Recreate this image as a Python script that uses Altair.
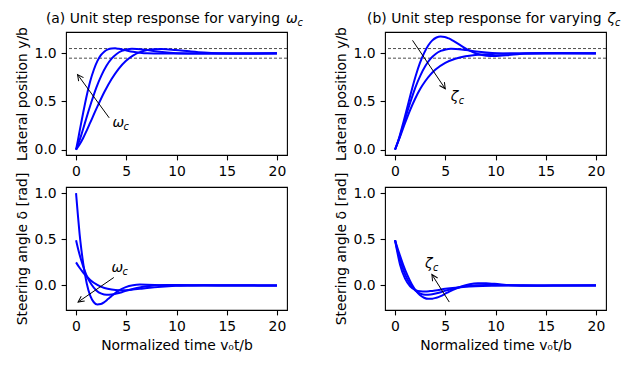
import altair as alt
import pandas as pd

# ---------------- data ----------------
# (a) varying omega_c  (zeta_c ~ 0.7)
T_W10 = [0, 0.18, 0.35, 0.53, 0.71, 1.06, 1.41, 1.77, 2.12, 2.47, 2.83, 3.18, 3.54, 3.89, 4.24, 4.95, 5.66, 6.36, 7.07, 8.49, 9.90, 20.0]
Y_W10 = [0, 0.092, 0.189, 0.287, 0.383, 0.560, 0.711, 0.830, 0.919, 0.981, 1.020, 1.042, 1.051, 1.052, 1.047, 1.031, 1.016, 1.006, 1.000, 0.998, 0.999, 1.0]
U_W10 = [1.0, 0.766, 0.562, 0.388, 0.242, 0.024, -0.111, -0.182, -0.207, -0.202, -0.179, -0.148, -0.115, -0.084, -0.056, -0.018, 0.002, 0.009, 0.008, 0.003, 0.000, 0.0]

T_W07 = [0, 0.25, 0.51, 0.76, 1.01, 1.52, 2.02, 2.53, 3.03, 3.54, 4.04, 4.55, 5.05, 5.56, 6.06, 7.07, 8.08, 9.09, 10.10, 12.12, 14.14, 20.0]
Y_W07 = [0, 0.069, 0.148, 0.233, 0.321, 0.492, 0.645, 0.772, 0.872, 0.945, 0.994, 1.025, 1.041, 1.047, 1.046, 1.034, 1.019, 1.008, 1.001, 0.998, 0.999, 1.0]
U_W07 = [0.49, 0.375, 0.275, 0.190, 0.118, 0.012, -0.054, -0.089, -0.101, -0.099, -0.088, -0.073, -0.056, -0.041, -0.028, -0.009, 0.001, 0.004, 0.004, 0.002, 0.000, 0.0]

T_W05 = [0, 0.35, 0.71, 1.06, 1.41, 2.12, 2.83, 3.54, 4.24, 4.95, 5.66, 6.36, 7.07, 7.78, 8.49, 9.90, 11.31, 12.73, 14.14, 16.97, 20.0]
Y_W05 = [0, 0.053, 0.121, 0.198, 0.280, 0.446, 0.601, 0.734, 0.840, 0.921, 0.977, 1.013, 1.034, 1.043, 1.045, 1.035, 1.021, 1.009, 1.002, 0.998, 0.999]
U_W05 = [0.25, 0.191, 0.140, 0.097, 0.060, 0.006, -0.028, -0.045, -0.052, -0.051, -0.045, -0.037, -0.029, -0.021, -0.014, -0.004, 0.000, 0.002, 0.002, 0.001, 0.000]

# (b) varying zeta_c  (omega_c ~ 0.7); the middle curve is the omega_c = 0.7 curve above
T_Z05 = [0, 0.41, 0.82, 1.24, 1.65, 2.06, 2.47, 2.89, 3.30, 3.71, 4.12, 4.54, 4.95, 5.36, 5.77, 6.60, 7.42, 8.25, 9.07, 9.90, 11.55, 13.20, 14.85, 16.50, 20.0]
Y_Z05 = [0, 0.124, 0.280, 0.449, 0.615, 0.767, 0.898, 1.003, 1.082, 1.135, 1.165, 1.175, 1.171, 1.155, 1.132, 1.078, 1.028, 0.993, 0.976, 0.972, 0.985, 1.000, 1.005, 1.003, 0.999]
U_Z05 = [0.49, 0.350, 0.221, 0.108, 0.015, -0.055, -0.104, -0.133, -0.145, -0.144, -0.133, -0.115, -0.093, -0.070, -0.048, -0.011, 0.013, 0.023, 0.023, 0.017, 0.003, -0.004, -0.003, -0.001, 0.001]

T_Z10 = [0, 0.5, 1, 1.5, 2, 2.5, 3, 3.5, 4, 5, 6, 7, 8, 10, 12, 15, 20]
Y_Z10 = [0, 0.135, 0.277, 0.411, 0.529, 0.629, 0.710, 0.776, 0.829, 0.901, 0.944, 0.969, 0.983, 0.995, 0.999, 1.0, 1.0]
U_Z10 = [0.49, 0.225, 0.073, -0.009, -0.048, -0.064, -0.066, -0.061, -0.054, -0.037, -0.024, -0.014, -0.008, -0.003, -0.001, 0.0, 0.0]

BAND = [0.95, 1.05]
X_TICKS = [0, 5, 10, 15, 20]
Y_TICKS = [0.0, 0.5, 1.0]

TITLE_A = "(a) Unit step response for varying"
TITLE_B = "(b) Unit step response for varying"
YLAB_TOP = "Lateral position y/b"
YLAB_BOT = "Steering angle δ [rad]"
XLAB = "Normalized time v₀t/b"

# ---------------- helpers ----------------
FONT = "DejaVu Sans"
FS = 13.9
W, H = 221, 123
BLUE = "#0000ff"
ARROW = "M -0.5 1 L 0 0 L 0.5 1"


def long_df(series):
    rows = []
    for name, ts, vs in series:
        for t, v in zip(ts, vs):
            rows.append({"curve": name, "t": t, "v": v})
    return pd.DataFrame(rows)


def x_enc(xtitle):
    kw = dict(scale=alt.Scale(domain=[-1, 21], nice=False, zero=False),
              axis=alt.Axis(values=X_TICKS, format="d", labelFlush=False))
    if xtitle:
        return alt.X("t:Q", title=xtitle, **kw)
    return alt.X("t:Q", title=None, **kw)


def y_enc(domain, ytitle):
    return alt.Y("v:Q", title=ytitle,
                 scale=alt.Scale(domain=domain, nice=False, zero=False),
                 axis=alt.Axis(values=Y_TICKS, format=".1f", labelFlush=False))


def panel(series, domain, ytitle, xtitle, arrow, label, title=None, band=False):
    xe, ye = x_enc(xtitle), y_enc(domain, ytitle)
    layers = []
    if band:
        layers.append(alt.Chart(pd.DataFrame({"v": BAND})).mark_rule(
            color="black", strokeWidth=0.7, strokeDash=[3, 2]).encode(y=ye))
    layers.append(alt.Chart(long_df(series)).mark_line(
        color=BLUE, strokeWidth=2, interpolate="monotone").encode(
        x=xe, y=ye, detail="curve:N"))
    (t0, v0), (t1, v1), ang = arrow
    layers.append(alt.Chart(pd.DataFrame({"t": [t0], "v": [v0], "t2": [t1], "v2": [v1]})).mark_rule(
        color="black", strokeWidth=1).encode(x=xe, y=ye, x2="t2:Q", y2="v2:Q"))
    layers.append(alt.Chart(pd.DataFrame({"t": [t1], "v": [v1]})).mark_point(
        shape=ARROW, filled=False, color="black", strokeWidth=1, size=144,
        angle=ang, opacity=1).encode(x=xe, y=ye))
    (lt, lv), sym, cdx = label
    ldf = pd.DataFrame({"t": [lt], "v": [lv], "s": [sym], "c": ["c"]})
    layers.append(alt.Chart(ldf).mark_text(
        align="left", baseline="alphabetic", font=FONT, fontSize=FS,
        fontStyle="italic", color="black").encode(x=xe, y=ye, text="s:N"))
    layers.append(alt.Chart(ldf).mark_text(
        align="left", baseline="alphabetic", font=FONT, fontSize=9.7,
        fontStyle="italic", color="black", dx=cdx, dy=3).encode(x=xe, y=ye, text="c:N"))
    if title is not None:
        main, xm, sym2, xs, xc = title
        tdf = pd.DataFrame({"m": [main], "s": [sym2], "c": ["c"]})
        layers.append(alt.Chart(tdf).mark_text(
            align="right", baseline="alphabetic", font=FONT, fontSize=FS, color="black").encode(
            x=alt.value(xm), y=alt.value(-9), text="m:N"))
        layers.append(alt.Chart(tdf).mark_text(
            align="left", baseline="alphabetic", font=FONT, fontSize=FS,
            fontStyle="italic", color="black").encode(
            x=alt.value(xs), y=alt.value(-9), text="s:N"))
        layers.append(alt.Chart(tdf).mark_text(
            align="left", baseline="alphabetic", font=FONT, fontSize=9.7,
            fontStyle="italic", color="black").encode(
            x=alt.value(xc), y=alt.value(-6), text="c:N"))
    return alt.layer(*layers).properties(width=W, height=H)


Y_TOP = [-0.056, 1.222]
Y_BOT = [-0.266, 1.066]

tl = panel([("w05", T_W05, Y_W05), ("w07", T_W07, Y_W07), ("w10", T_W10, Y_W10)],
           Y_TOP, YLAB_TOP, None,
           ((3.3, 0.33), (0.15, 0.78), 324), ((3.63, 0.24), "ω", 11),
           title=(TITLE_A, 214, "ω", 220, 231.5), band=True)
tr = panel([("z05", T_Z05, Y_Z05), ("z07", T_W07, Y_W07), ("z10", T_Z10, Y_Z10)],
           Y_TOP, YLAB_TOP, None,
           ((1.74, 1.135), (5.0, 0.632), 146), ((5.55, 0.5), "ζ", 8),
           title=(TITLE_B, 216.5, "ζ", 222.5, 230), band=True)
bl = panel([("w05", T_W05, U_W05), ("w07", T_W07, U_W07), ("w10", T_W10, U_W10)],
           Y_BOT, YLAB_BOT, XLAB,
           ((3.76, 0.086), (0.2, -0.18), 235), ((3.53, 0.143), "ω", 11))
br = panel([("z05", T_Z05, U_Z05), ("z07", T_W07, U_W07), ("z10", T_Z10, U_Z10)],
           Y_BOT, YLAB_BOT, XLAB,
           ((5.4, -0.18), (3.67, 0.118), 328), ((2.97, 0.19), "ζ", 8))

chart = alt.concat(tl, tr, bl, br, columns=2,
                   spacing={"row": 32, "column": 98}, bounds="flush").properties(
    autosize=alt.AutoSizeParams(type="pad"),
    padding={"left": 6, "top": 3, "right": 0, "bottom": 0},
    background="white",
).configure_view(
    stroke="black", strokeWidth=1.1
).configure_axis(
    domain=False, grid=False,
    ticks=True, tickColor="black", tickSize=4.9, tickWidth=1.1,
    labelFont=FONT, labelFontSize=FS, labelColor="black", labelPadding=4.9,
    titleFont=FONT, titleFontSize=FS, titleFontWeight="normal", titleColor="black",
    titlePadding=5,
)

chart.save("out.html", embed_options={"renderer": "svg", "actions": False})
